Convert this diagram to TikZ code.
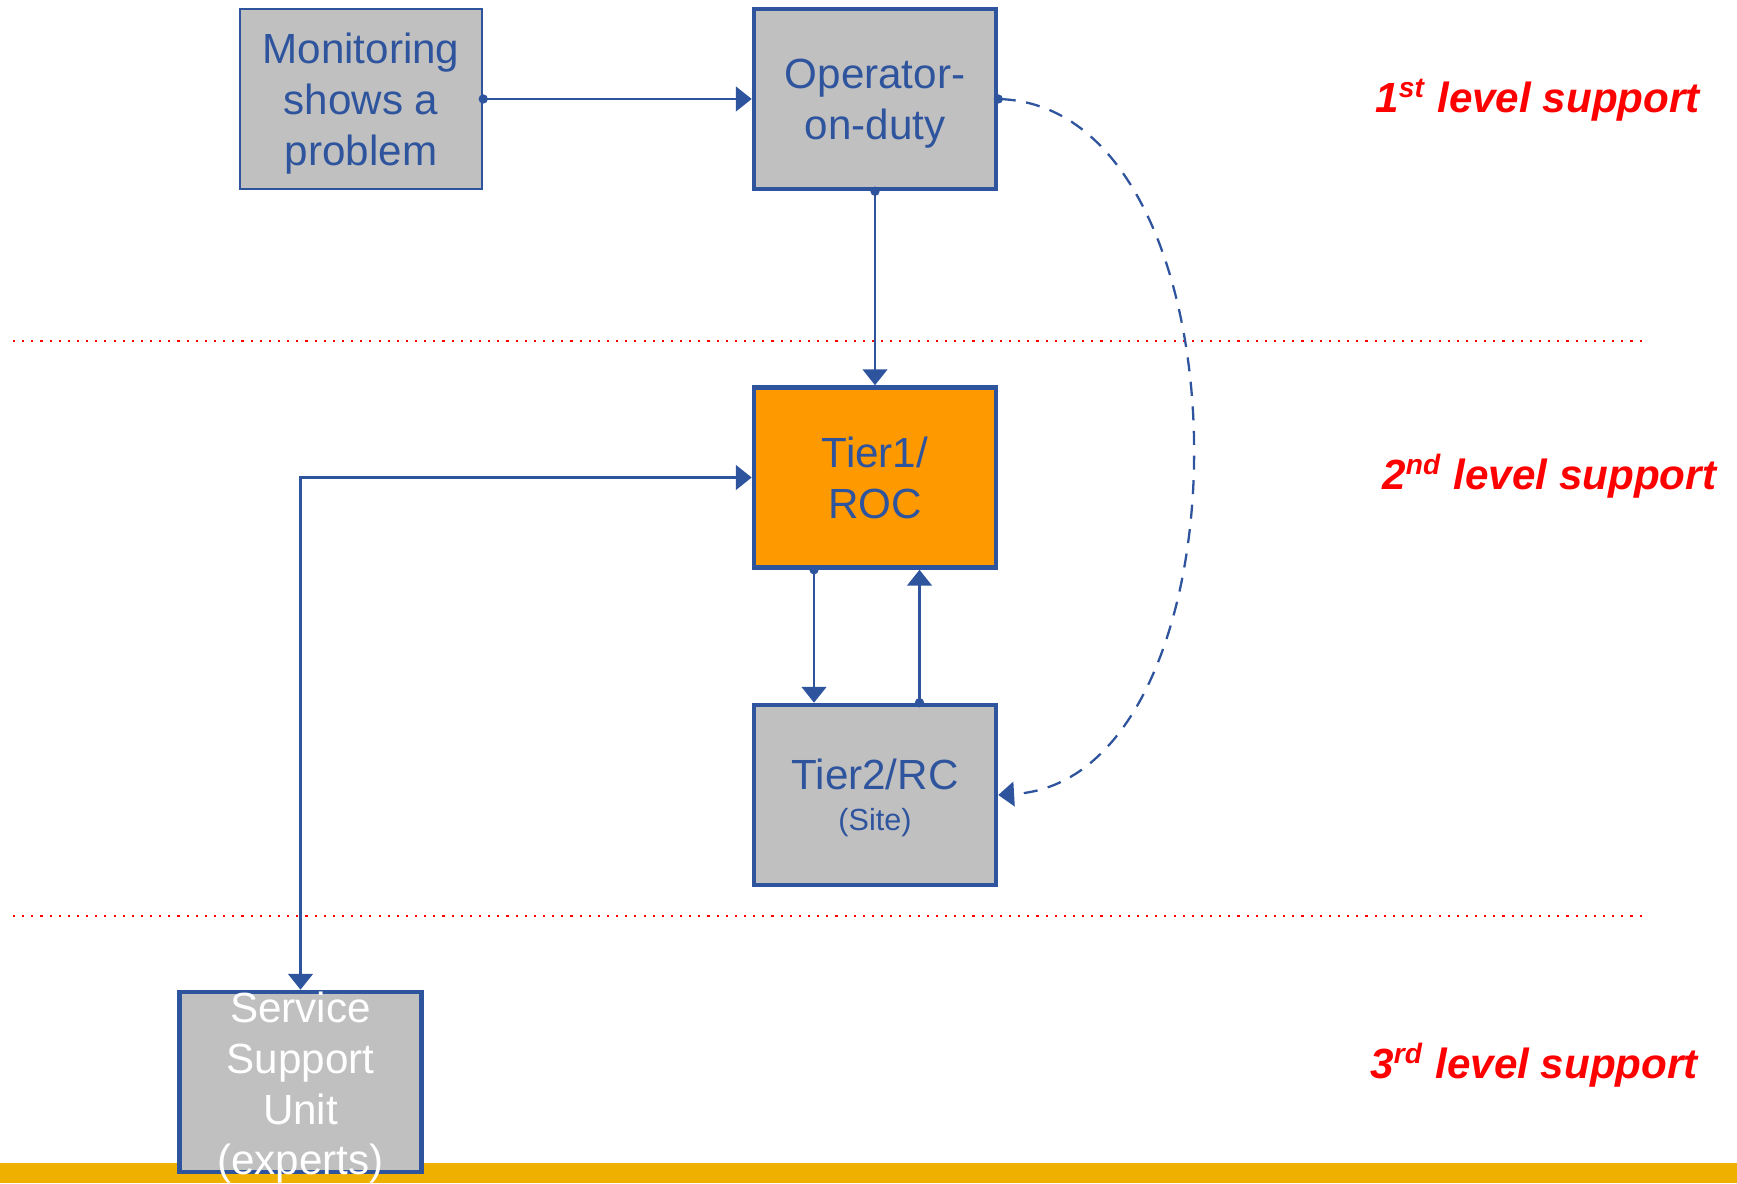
\documentclass[tikz,border=0pt]{standalone}
\usepackage{fontspec}
\setmainfont{Liberation Sans}
\usepackage{xcolor}
\usepackage{tikz}
\usetikzlibrary{arrows.meta, positioning}

\definecolor{boxblue}{RGB}{47,84,158}
\definecolor{boxgrey}{RGB}{192,192,192}
\definecolor{roc}{RGB}{255,153,0}
\definecolor{bargold}{RGB}{240,176,0}

\begin{document}
\begin{tikzpicture}[
    font=\fontsize{12}{14.5}\selectfont,
    box/.style={rectangle, draw=boxblue, fill=boxgrey, text=boxblue, minimum width=2.42cm, minimum height=1.8cm, align=center, inner sep=0pt},
    conn/.style={draw=boxblue, line width=0.65pt, -{Triangle[length=4.5pt, width=7pt]}},
    dotconn/.style={conn, {Circle[length=2.6pt]}-{Triangle[length=4.5pt, width=7pt]}, shorten <=-1.3pt},
    level/.style={anchor=west, text=red, font=\fontsize{12}{14.5}\selectfont\bfseries\itshape},
    sep/.style={red, dotted, line width=0.6pt}
]
    \useasboundingbox (0,0) rectangle (17.37,11.83);

    % Bottom bar
    \fill[bargold] (0,0) rectangle (17.37,0.2);

    % Level separators
    \draw[sep] (0.13,8.42) -- (16.44,8.42);
    \draw[sep] (0.13,2.67) -- (16.44,2.67);

    % Level labels
    \node[level] (lvl1) at (13.63,10.83) {1\textsuperscript{st} level support};
    \node[level] (lvl2) at (13.70,7.07) {2\textsuperscript{nd} level support};
    \node[level] (lvl3) at (13.58,1.18) {3\textsuperscript{rd} level support};

    % Monitoring
    \node[box, line width=0.7pt, text depth=-0.9pt] (monitor) at (3.61,10.84) {Monitoring\\shows a\\problem};

    % Operator on duty
    \node[box, line width=1.3pt, text depth=-1.9pt] (cod) at (8.75,10.84) {Operator-\\on-duty};
    \draw[dotconn] (monitor) -- (cod);

    % Tier1 / ROC
    \node[box, line width=1.3pt, fill=roc] (tier1) at (8.75,7.055) {Tier1/\\ROC};
    \draw[dotconn] (cod) -- (tier1);

    % Tier2 / RC
    \node[box, line width=1.3pt, text depth=-1.2pt] (tier2) at (8.75,3.88) {Tier2/RC\\[-2.9pt]{\fontsize{8.7}{10}\selectfont (Site)}};
    \draw[dotconn] ([xshift=-0.61cm]tier1.south) -- ([xshift=-0.61cm]tier2.north);
    \draw[dotconn] ([xshift=0.445cm]tier2.north) -- ([xshift=0.445cm]tier1.south);
    \draw[dotconn, dashed, dash pattern=on 4pt off 3pt] (cod.east) .. controls +(2.58,-0.12) and +(2.58,0.15) .. (tier2.east);

    % Service support unit
    \node[box, line width=1.3pt, label={[text=white, align=center, yshift=-1.6pt]center:Service\\Support\\Unit\\(experts)}] (ssu) at (3.005,1.01) {};
    \draw[conn, {Triangle[length=4.5pt, width=7pt]}-{Triangle[length=4.5pt, width=7pt]}] (ssu.north) |- (tier1.west);
\end{tikzpicture}
\end{document}
